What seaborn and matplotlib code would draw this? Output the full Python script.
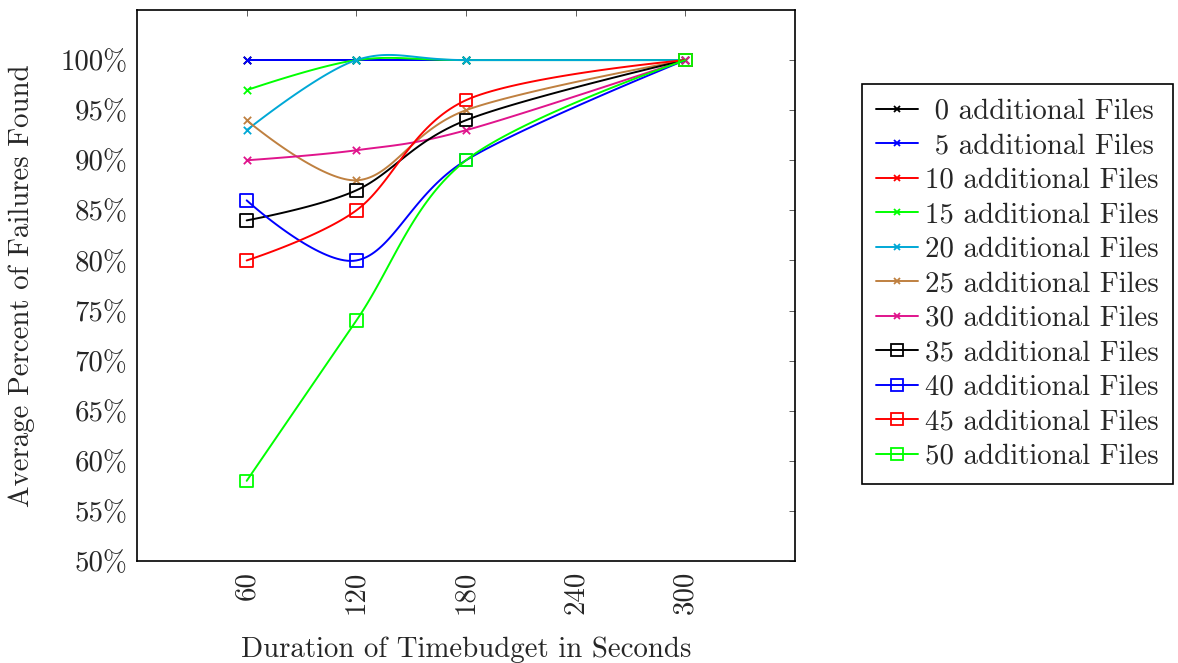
import numpy as np
import pandas as pd
import matplotlib
matplotlib.use("Agg")
import matplotlib.pyplot as plt
import seaborn as sns
from matplotlib.lines import Line2D

# ---------------- data ----------------
durations = [60, 120, 180, 300]
x_ticks = [60, 120, 180, 240, 300]
y_ticks = [50, 55, 60, 65, 70, 75, 80, 85, 90, 95, 100]
y_tick_labels = [f"{v}%" for v in y_ticks]

series_labels = [" 0 additional Files", " 5 additional Files", "10 additional Files",
                 "15 additional Files", "20 additional Files", "25 additional Files",
                 "30 additional Files", "35 additional Files", "40 additional Files",
                 "45 additional Files", "50 additional Files"]

files_0 = [100, 100, 100, 100]
files_5 = [100, 100, 100, 100]
files_10 = [np.nan, np.nan, np.nan, np.nan]   # no visible marks in the chart
files_15 = [97, 100, 100, 100]
files_20 = [93, 100, 100, 100]
files_25 = [94, 88, 95, 100]
files_30 = [90, 91, 93, 100]
files_35 = [84, 87, 94, 100]
files_40 = [86, 80, 90, 100]
files_45 = [80, 85, 96, 100]
files_50 = [58, 74, 90, 100]
all_series = [files_0, files_5, files_10, files_15, files_20, files_25,
              files_30, files_35, files_40, files_45, files_50]

colors = ["#000000", "#0000FF", "#FF0000", "#00FF00", "#00A8D6", "#BF8040",
          "#E0148C", "#000000", "#0000FF", "#FF0000", "#00FF00"]
markers = ["x"] * 7 + ["s"] * 4

TENSION = 0.165


def smooth(xs, ys, k=TENSION, n=40):
    pts = [(x, y) for x, y in zip(xs, ys) if not np.isnan(y)]
    if len(pts) == 0:
        return np.empty((0, 2))
    P = np.array(pts, dtype=float)
    m = len(P)
    out = [P[0]]
    for i in range(m - 1):
        p0, p1 = P[i], P[i + 1]
        c1 = p0 + k * (P[i + 1] - P[i - 1]) if i > 0 else p0
        c2 = p1 - k * (P[i + 2] - P[i]) if i + 2 < m else p1
        t = np.linspace(0, 1, n)[1:, None]
        seg = ((1 - t) ** 3) * p0 + 3 * ((1 - t) ** 2) * t * c1 + 3 * (1 - t) * t ** 2 * c2 + t ** 3 * p1
        out.extend(seg)
    return np.array(out)


rows = []
for lab, vals in zip(series_labels, all_series):
    c = smooth(durations, vals)
    for j, (x, y) in enumerate(c):
        rows.append({"x": x, "y": y, "series": lab, "idx": j})
df = pd.DataFrame(rows)

# ---------------- figure ----------------
sns.set_style("white")
plt.rcParams["font.family"] = ["cmr10", "DejaVu Serif"]
plt.rcParams["axes.formatter.use_mathtext"] = True
plt.rcParams["mathtext.fontset"] = "cm"

fig = plt.figure(figsize=(11.78, 6.63), dpi=100)
ax = fig.add_axes([137 / 1178, 1 - 561 / 663, (795 - 137) / 1178, (561 - 10) / 663])

FS = 20.8
for i, (lab, vals) in enumerate(zip(series_labels, all_series)):
    sub = df[df["series"] == lab]
    if len(sub):
        sns.lineplot(data=sub, x="x", y="y", sort=False, estimator=None, color=colors[i],
                     linewidth=1.4, ax=ax, legend=False, zorder=3 + i * 0.1)
    pts_x = [x for x, v in zip(durations, vals) if not np.isnan(v)]
    pts_y = [v for v in vals if not np.isnan(v)]
    if not pts_x:
        continue
    if markers[i] == "x":
        sns.scatterplot(x=pts_x, y=pts_y, marker="x", s=28, color=colors[i],
                        linewidth=1.3, ax=ax, legend=False, zorder=3.05 + i * 0.1)
    else:
        sns.scatterplot(x=pts_x, y=pts_y, marker="s", s=80, facecolor="none",
                        edgecolor=colors[i], linewidth=1.3, ax=ax, legend=False,
                        zorder=3.05 + i * 0.1)

ax.set_xlim(0, 360)
ax.set_ylim(50, 105)
ax.set_xticks(x_ticks)
ax.set_xticklabels([str(v) for v in x_ticks], rotation=90, fontsize=FS)
ax.set_yticks(y_ticks)
ax.set_yticklabels(y_tick_labels, fontsize=FS)
ax.tick_params(direction="in", length=4, width=0.6, top=True, right=True,
               color="#444444", pad=7)
for s in ax.spines.values():
    s.set_color("black")
    s.set_linewidth(1.2)
ax.set_xlabel("Duration of Timebudget in Seconds", fontsize=FS, labelpad=16)
ax.set_ylabel("Average Percent of Failures Found", fontsize=FS, labelpad=18)

handles = []
for i, lab in enumerate(series_labels):
    if markers[i] == "x":
        h = Line2D([], [], color=colors[i], linewidth=1.4, marker="x", markersize=5,
                   markeredgewidth=1.3)
    else:
        h = Line2D([], [], color=colors[i], linewidth=1.4, marker="s", markersize=8,
                   markerfacecolor="none", markeredgewidth=1.3)
    handles.append(h)
leg = fig.legend(handles, series_labels, loc="upper left",
                 bbox_to_anchor=(862 / 1178, 1 - 84 / 663), fontsize=FS,
                 frameon=True, fancybox=False, edgecolor="black", framealpha=1,
                 handlelength=1.45, handletextpad=0.22, labelspacing=0.283,
                 borderpad=0.5, borderaxespad=0)
leg.get_frame().set_linewidth(1.2)

fig.savefig("out.png", dpi=100)
